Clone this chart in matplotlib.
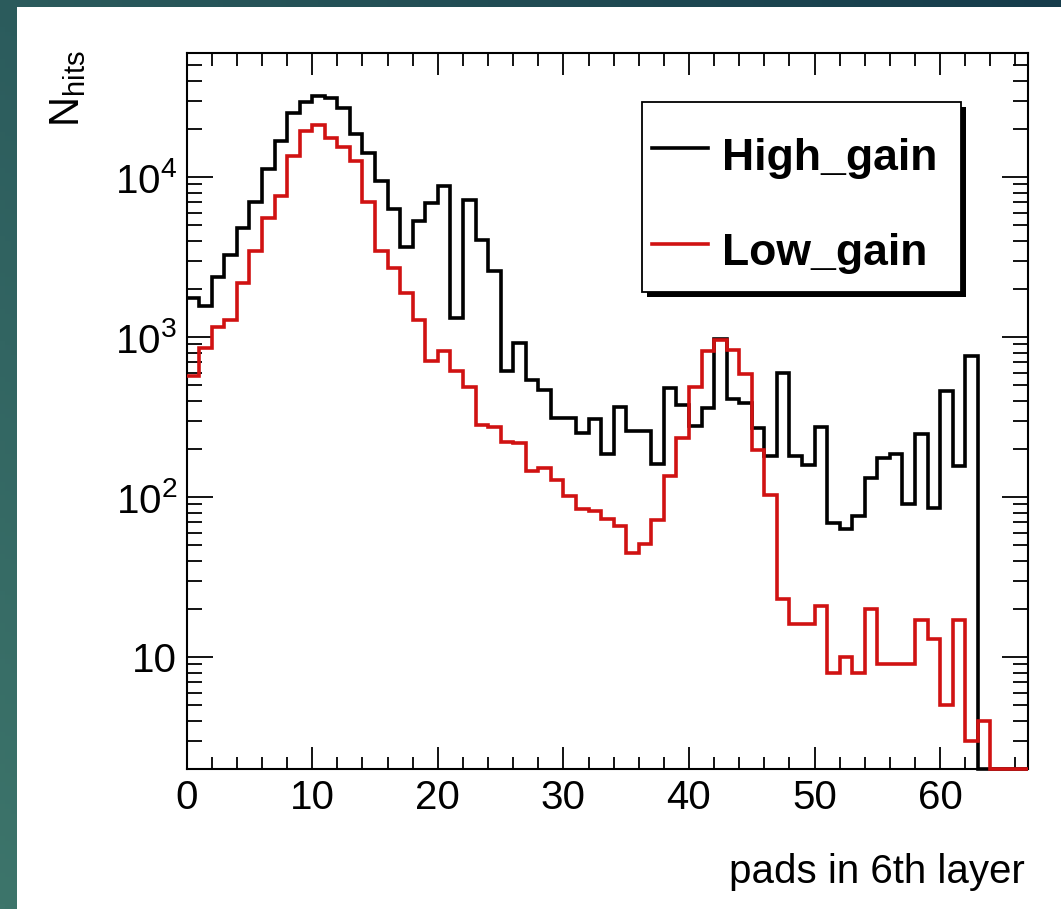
import numpy as np
import matplotlib
matplotlib.use("Agg")
import matplotlib.pyplot as plt
from matplotlib.patches import Rectangle
from matplotlib.lines import Line2D
from matplotlib.ticker import FixedLocator, FixedFormatter, LogLocator, MultipleLocator, NullFormatter

plt.rcParams["font.family"] = ["Liberation Sans", "DejaVu Sans"]
plt.rcParams["mathtext.fontset"] = "custom"
plt.rcParams["mathtext.rm"] = "Liberation Sans"
plt.rcParams["mathtext.it"] = "Liberation Sans:italic"
plt.rcParams["mathtext.bf"] = "Liberation Sans:bold"

# Hit counts per pad (bin width 1, pads 0..66)
bin_edges = np.arange(0, 68)
high_gain = [1750, 1570, 2370, 3270, 4810, 6950, 11300, 16700, 25200, 29400,
             32000, 31300, 27100, 18500, 14200, 9420, 6270, 3660, 5290, 6900,
             8760, 1315, 7230, 4030, 2570, 610, 916, 540, 464, 311,
             311, 251, 307, 186, 368, 257, 257, 161, 484, 378,
             279, 360, 970, 409, 390, 270, 181, 600, 181, 159,
             276, 69, 63, 76, 131, 175, 186, 91, 248, 85,
             457, 157, 763, 0, 0, 0, 0]
low_gain = [573, 853, 1163, 1283, 2180, 3440, 5560, 7590, 13500, 19400,
            21000, 17600, 15500, 12600, 6950, 3440, 2700, 1885, 1283, 713,
            813, 618, 491, 283, 276, 222, 217, 146, 151, 128,
            102, 84, 82, 73, 66, 45, 51, 72, 136, 233,
            491, 813, 962, 825, 589, 197, 103, 23, 16, 16,
            21, 8, 10, 8, 20, 9, 9, 9, 17, 13,
            5, 17, 3, 4, 0, 0, 0]
series_names = ["High_gain", "Low_gain"]
series_colors = ["black", "#d01212"]

y_major = [10, 100, 1000, 10000]
y_major_labels = ["10", r"$10^{2}$", r"$10^{3}$", r"$10^{4}$"]
x_major = [0, 10, 20, 30, 40, 50, 60]

W, H = 1061, 909
YMIN, YMAX = 2.0, 6.0e4

fig = plt.figure(figsize=(W / 100, H / 100), dpi=100)

# teal gradient backdrop with white canvas
bg = fig.add_axes([0, 0, 1, 1], zorder=-10)
gx, gy = np.meshgrid(np.linspace(0, 1, 200), np.linspace(0, 1, 200))
t = np.clip(0.55 * gx + 0.45 * (1 - gy), 0, 1)
c0 = np.array([0x3d, 0x75, 0x6b]) / 255.0
c1 = np.array([0x16, 0x3c, 0x4b]) / 255.0
img = c0[None, None, :] * (1 - t[..., None]) + c1[None, None, :] * t[..., None]
bg.imshow(img, extent=[0, 1, 0, 1], aspect="auto", origin="upper")
bg.add_patch(Rectangle((17 / W, 0), 1 - 17 / W, 1 - 7 / H, facecolor="white",
                       edgecolor="none"))
bg.set_xlim(0, 1)
bg.set_ylim(0, 1)
bg.axis("off")

ax = fig.add_axes([186.7 / W, 1 - 769 / H, (1028 - 186.7) / W, (769 - 52.5) / H])
ax.set_yscale("log")
ax.set_xlim(0, 67)
ax.set_ylim(YMIN, YMAX)

# empty bins sit on the lower edge of the frame
for vals, col, z in zip([high_gain, low_gain], series_colors, [3, 3.5]):
    v = np.clip(np.asarray(vals, dtype=float), YMIN, None)
    ax.stairs(v, bin_edges, baseline=None, color=col, lw=2.6, clip_on=False,
              zorder=z)

for sp in ax.spines.values():
    sp.set_linewidth(1.5)
    sp.set_zorder(2.5)

ax.xaxis.set_major_locator(FixedLocator(x_major))
ax.xaxis.set_minor_locator(MultipleLocator(2))
ax.yaxis.set_major_locator(FixedLocator(y_major))
ax.yaxis.set_major_formatter(FixedFormatter(y_major_labels))
ax.yaxis.set_minor_locator(LogLocator(base=10, subs=np.arange(2, 10)))
ax.yaxis.set_minor_formatter(NullFormatter())

ax.tick_params(axis="both", which="both", direction="in", top=True, right=True,
               width=1.3, labelsize=29)
ax.tick_params(axis="x", which="major", length=16, pad=7)
ax.tick_params(axis="x", which="minor", length=9)
ax.tick_params(axis="y", which="major", length=19, pad=7)
ax.tick_params(axis="y", which="minor", length=11)

# axis titles
fig.text(1025 / W, 1 - 883 / H, "pads in 6th layer", ha="right", va="baseline",
         fontsize=29)
fig.text(68 / W, 1 - 50 / H, r"$\mathrm{N}_{\mathrm{hits}}$", rotation=90,
         ha="center", va="top", fontsize=30)

# legend box with solid drop shadow
def fx(px):
    return px / W

def fy(py):
    return 1 - py / H

bx0, by0, bx1, by1 = 641.7, 102.3, 961.0, 291.7
sh = 5
fig.add_artist(Rectangle((fx(bx0 + sh), fy(by1 + sh)), fx(bx1 - bx0), (by1 - by0) / H,
                         transform=fig.transFigure, facecolor="black",
                         edgecolor="none", zorder=10))
fig.add_artist(Rectangle((fx(bx0), fy(by1)), fx(bx1 - bx0), (by1 - by0) / H,
                         transform=fig.transFigure, facecolor="white",
                         edgecolor="black", lw=1.3, zorder=11))
entry_line_y = [148.3, 244.0]
entry_base_y = [170.0, 265.0]
for name, col, ly, by in zip(series_names, series_colors, entry_line_y, entry_base_y):
    fig.add_artist(Line2D([fx(651.7), fx(708.3)], [fy(ly), fy(ly)],
                          transform=fig.transFigure, color=col, lw=2.6, zorder=12))
    fig.text(fx(721.7), fy(by), name, ha="left", va="baseline", fontsize=32,
             fontweight="bold", zorder=12)

fig.savefig("out.png", dpi=100)
